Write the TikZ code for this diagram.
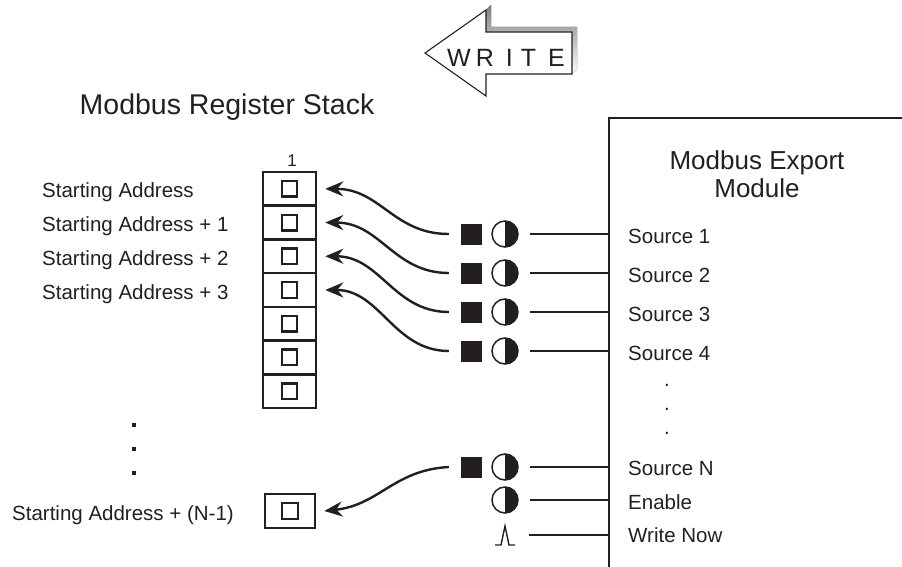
\documentclass[tikz,border=0pt]{standalone}
\usepackage{fontspec}
\setmainfont{Liberation Sans}
\usetikzlibrary{arrows.meta}
\definecolor{ink}{RGB}{35,31,32}
\definecolor{shade}{RGB}{190,190,190}
\begin{document}
\begin{tikzpicture}[x=1pt,y=-1pt,
  lbl/.style={font=\fontsize{20.5}{24}\selectfont, text=ink, inner sep=0pt, anchor=base west},
  reg/.style={draw=ink, line width=2.6pt, minimum width=53pt, minimum height=33.7pt, inner sep=0pt},
  cell/.style={draw=ink, line width=2.4pt, minimum size=15.5pt, inner sep=0pt},
  blk/.style={fill=ink, minimum size=21pt, inner sep=0pt},
  halfc/.style={circle, draw=ink, line width=1.5pt, minimum size=26pt, inner sep=0pt,
    path picture={\fill[ink] (path picture bounding box.north) rectangle (path picture bounding box.south east);}},
  wire/.style={draw=ink, line width=2.3pt},
  bendarrow/.style={draw=ink, line width=2.4pt, -{Stealth[length=18pt,width=15pt,inset=6pt]}},
  dotsq/.style={fill=ink, minimum size=4.5pt, inner sep=0pt},
]
\useasboundingbox (0,0) rectangle (902,567);
\clip (0,0) rectangle (902,567);

% WRITE arrow
\fill[shade] (486,10) -- (491,5) -- (491,27) -- (577,27) -- (577,69) -- (572,74) -- (486,74) -- cycle;
\draw[ink, fill=white, line width=1.1pt] (425,53) -- (486,10) -- (486,32) -- (572,32) -- (572,74) -- (486,74) -- (486,96) -- cycle;
\node[font=\fontsize{25}{28}\selectfont, text=ink, inner sep=0pt, anchor=base west] (write) at (447,67)
  {W\hspace{5pt}R\hspace{12pt}I\hspace{8pt}T\hspace{12pt}E};

% titles
\node[font=\fontsize{28.5}{32}\selectfont, text=ink, inner sep=0pt, anchor=base] (title) at (227,115) {Modbus Register Stack};
\node[font=\fontsize{17}{19}\selectfont, text=ink, inner sep=0pt, anchor=base] (one) at (292,166) {1};

% register stack
\foreach \i in {1,...,7} {
  \node[reg] (r\i) at (289.5,{172+16.86+(\i-1)*33.7}) {};
  \node[cell] (s\i) at (r\i) {};
}
\node[reg, minimum width=50pt, minimum height=34pt] (rN) at (290,511) {};
\node[cell] (sN) at (rN) {};

% left labels
\node[lbl] (a0) at (42,197) {Starting Address};
\node[lbl] (a1) at (42,231) {Starting Address + 1};
\node[lbl] (a2) at (42,265) {Starting Address + 2};
\node[lbl] (a3) at (42,299) {Starting Address + 3};
\node[lbl] (aN) at (12,520) {Starting Address + (N-1)};
\node[dotsq] (d1) at (134,425) {};
\node[dotsq] (d2) at (134,449) {};
\node[dotsq] (d3) at (134,473) {};

% module
\node[draw=ink, line width=2.3pt, minimum width=400pt, minimum height=520pt, anchor=north west, inner sep=0pt] (mod) at (608,117) {};
\node[font=\fontsize{26}{28}\selectfont, text=ink, inner sep=0pt, align=center, anchor=center] (modt) at (757,174) {Modbus Export\\Module};

% sources
\foreach \i/\y in {1/234, 2/273, 3/312, 4/351, N/467} {
  \node[blk] (q\i) at (471.5,\y) {};
  \node[halfc] (h\i) at (505,\y) {};
  \draw[wire] ([xshift=11pt]h\i.east) -- (h\i.east -| mod.west);
}
\node[halfc] (hE) at (505,500) {};
\draw[wire] ([xshift=11pt]hE.east) -- (hE.east -| mod.west);
\coordinate (pulse) at (505,535);
\draw[ink, line width=1.4pt] ([shift={(-10,10)}]pulse) -- ([shift={(-4,10)}]pulse) -- ([shift={(0,-9)}]pulse) -- ([shift={(4,10)}]pulse) -- ([shift={(10,10)}]pulse);
\draw[wire] ([xshift=24pt]pulse) -- (pulse -| mod.west);

\node[lbl] (l1) at (628,243) {Source 1};
\node[lbl] (l2) at (628,282) {Source 2};
\node[lbl] (l3) at (628,321) {Source 3};
\node[lbl] (l4) at (628,360) {Source 4};
\node[lbl, anchor=base] (m1) at (667,386) {.};
\node[lbl, anchor=base] (m2) at (667,410) {.};
\node[lbl, anchor=base] (m3) at (667,434) {.};
\node[lbl] (lN) at (628,475) {Source N};
\node[lbl] (lE) at (628,509) {Enable};
\node[lbl] (lW) at (628,542) {Write Now};

% curved connectors
\foreach \i in {1,2,3,4} {
  \draw[bendarrow] ([xshift=-12pt]q\i.west) .. controls +(-55,0) and +(55,0) .. ([xshift=8pt]r\i.east);
}
\draw[bendarrow] ([xshift=-12pt]qN.west) .. controls +(-55,3) and +(55,-6) .. ([xshift=8pt]rN.east);
\end{tikzpicture}
\end{document}
